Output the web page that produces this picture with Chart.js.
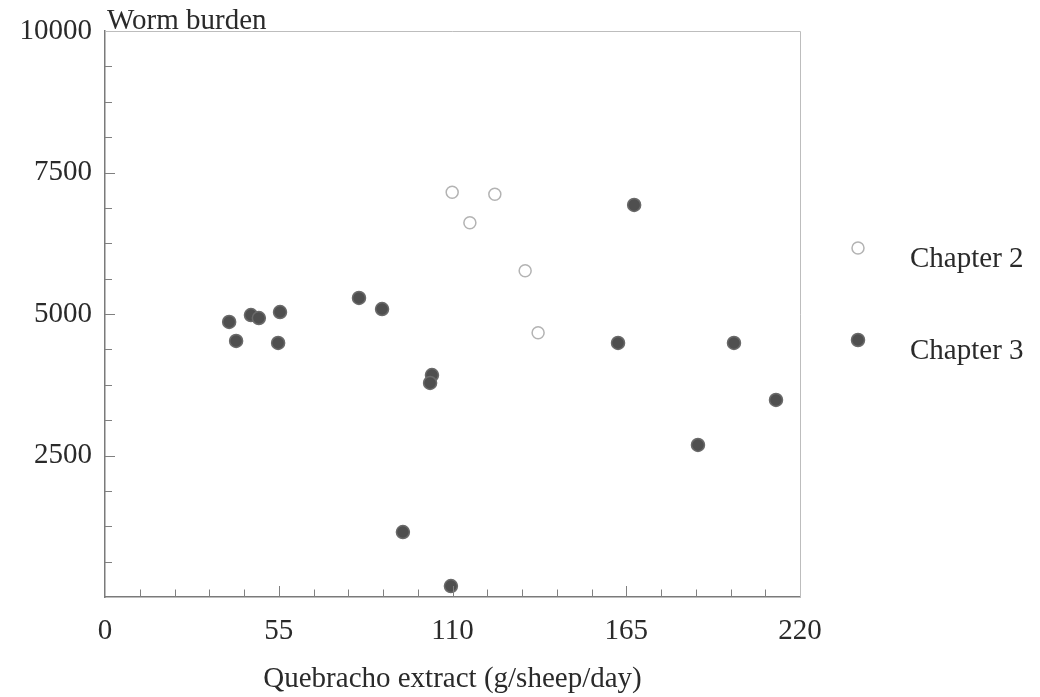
<!DOCTYPE html>
<html>
<head>
<meta charset="utf-8">
<script src="https://cdn.jsdelivr.net/npm/chart.js@4.4.1/dist/chart.umd.min.js"></script>
<style>
  html, body { margin: 0; padding: 0; background: #fff; }
  #wrap { width: 1040px; height: 697px; position: relative; }
</style>
</head>
<body>
<div id="wrap"><canvas id="c" width="1040" height="697"></canvas></div>
<script>
// ---- Data ----
const seriesNames = ["Chapter 2", "Chapter 3"];
const chapter2X = [109.9, 123.4, 115.5, 133.0, 137.1];
const chapter2Y = [7150, 7115, 6613, 5765, 4670];
const chapter3X = [39.3, 41.5, 46.2, 48.7, 55.4, 54.8, 80.4, 87.7, 103.5, 102.9, 94.3, 109.5, 167.5, 162.4, 187.7, 199.1, 212.4];
const chapter3Y = [4859, 4523, 4982, 4929, 5035, 4488, 5283, 5088, 3922, 3781, 1148, 194, 6926, 4488, 2686, 4488, 3481];
const xTickLabels = [0, 55, 110, 165, 220];
const yTickLabels = [2500, 5000, 7500, 10000];
const xTitle = "Quebracho extract (g/sheep/day)";
const yTitle = "Worm burden";

const FONT = "'Liberation Serif', 'Times New Roman', serif";
const FS = 29;
const TXT = "#2a2a2a";

function pts(xs, ys) { return xs.map((x, i) => ({ x: x, y: ys[i] })); }

const tickMarks = {
  id: 'tickMarks',
  afterDraw(chart) {
    const ctx = chart.ctx, a = chart.chartArea;
    ctx.save();
    // top/right frame
    ctx.strokeStyle = '#bdbdbd';
    ctx.lineWidth = 1;
    ctx.beginPath();
    ctx.moveTo(a.left, a.top + 0.5);
    ctx.lineTo(a.right + 0.5, a.top + 0.5);
    ctx.lineTo(a.right + 0.5, a.bottom);
    ctx.stroke();
    ctx.strokeStyle = '#808080';
    ctx.lineWidth = 1;
    const xs = chart.scales.x, ys = chart.scales.y;
    xs.ticks.forEach(t => {
      if (t.value <= xs.min || t.value >= xs.max) return;
      const p = Math.round(xs.getPixelForValue(t.value)) + 0.5;
      const len = xTickLabels.includes(t.value) ? 11 : 7.5;
      ctx.beginPath(); ctx.moveTo(p, a.bottom); ctx.lineTo(p, a.bottom - len); ctx.stroke();
    });
    ys.ticks.forEach(t => {
      if (t.value <= ys.min || t.value >= ys.max) return;
      const p = Math.round(ys.getPixelForValue(t.value)) + 0.5;
      const len = yTickLabels.includes(t.value) ? 10 : 7;
      ctx.beginPath(); ctx.moveTo(a.left, p); ctx.lineTo(a.left + len, p); ctx.stroke();
    });
    // y title
    ctx.fillStyle = TXT;
    ctx.font = FS + "px " + FONT;
    ctx.textBaseline = 'middle';
    ctx.textAlign = 'left';
    ctx.fillText(yTitle, a.left + 2, a.top - 10);
    // legend
    chart.data.datasets.forEach((ds, i) => {
      const cy = a.top + 217 + i * 92;
      const cx = a.right + 58;
      ctx.beginPath();
      ctx.arc(cx, cy, ds.pointRadius, 0, Math.PI * 2);
      ctx.fillStyle = ds.backgroundColor;
      ctx.fill();
      ctx.lineWidth = ds.borderWidth;
      ctx.strokeStyle = ds.borderColor;
      ctx.stroke();
      ctx.fillStyle = TXT;
      ctx.fillText(ds.label, a.right + 110, cy + 11);
    });
    ctx.restore();
  }
};

new Chart(document.getElementById('c'), {
  type: 'scatter',
  data: {
    datasets: [
      { label: seriesNames[0], data: pts(chapter2X, chapter2Y),
        backgroundColor: '#ffffff', borderColor: '#b3b3b3', borderWidth: 1.5, pointRadius: 6, pointHoverRadius: 6 },
      { label: seriesNames[1], data: pts(chapter3X, chapter3Y),
        backgroundColor: '#4f4f4f', borderColor: '#6a6a6a', borderWidth: 1.5, pointRadius: 6.5, pointHoverRadius: 6.5 }
    ]
  },
  options: {
    responsive: false,
    animation: false,
    devicePixelRatio: 1,
    layout: { padding: { top: 31, right: 240, left: 0, bottom: 0 } },
    plugins: { legend: { display: false }, tooltip: { enabled: false } },
    scales: {
      x: {
        type: 'linear', min: 0, max: 220,
        grid: { display: false, drawTicks: false },
        border: { display: true, color: '#7a7a7a', width: 1.5 },
        ticks: {
          stepSize: 11, autoSkip: false, maxRotation: 0, padding: 17,
          color: TXT, font: { family: FONT, size: FS },
          callback: v => xTickLabels.includes(v) ? String(v) : ''
        },
        title: { display: true, text: xTitle, color: TXT, font: { family: FONT, size: FS }, padding: { top: 0, bottom: 0 } },
        afterFit: s => { s.height = 100; }
      },
      y: {
        type: 'linear', min: 0, max: 10000,
        grid: { display: false, drawTicks: false },
        border: { display: true, color: '#7a7a7a', width: 1.5 },
        ticks: {
          stepSize: 625, autoSkip: false, padding: 13,
          color: TXT, font: { family: FONT, size: FS },
          callback: v => yTickLabels.includes(v) ? String(v) : ''
        },
        afterFit: s => { s.width = 105; }
      }
    }
  },
  plugins: [tickMarks]
});
</script>
</body>
</html>
